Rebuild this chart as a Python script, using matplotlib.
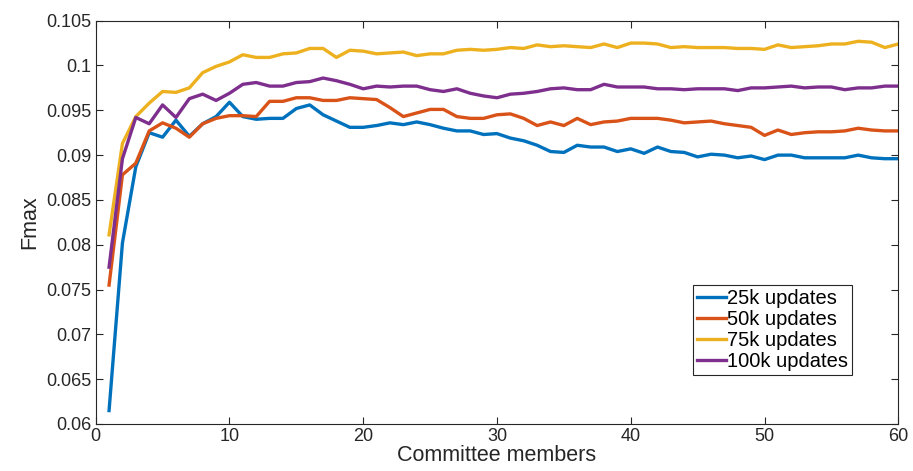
"""
Fmax vs committee size for different numbers of updates
"""

# Imports
import matplotlib
matplotlib.use('Agg')
import matplotlib.pyplot as plt
import numpy

plt.rcParams['font.family'] = ['Liberation Sans', 'DejaVu Sans']

# Data
members = numpy.arange(1, 61)

fmax_25k = [0.0615, 0.0802, 0.0887, 0.0925, 0.0920, 0.0939, 0.0921, 0.0935, 0.0943, 0.0959,
            0.0943, 0.0940, 0.0941, 0.0941, 0.0952, 0.0956, 0.0945, 0.0938, 0.0931, 0.0931,
            0.0933, 0.0936, 0.0934, 0.0937, 0.0934, 0.0930, 0.0927, 0.0927, 0.0923, 0.0924,
            0.0919, 0.0916, 0.0911, 0.0904, 0.0903, 0.0911, 0.0909, 0.0909, 0.0904, 0.0907,
            0.0902, 0.0909, 0.0904, 0.0903, 0.0898, 0.0901, 0.0900, 0.0897, 0.0899, 0.0895,
            0.0900, 0.0900, 0.0897, 0.0897, 0.0897, 0.0897, 0.0900, 0.0897, 0.0896, 0.0896]

fmax_50k = [0.0755, 0.0878, 0.0891, 0.0927, 0.0936, 0.0930, 0.0920, 0.0935, 0.0941, 0.0944,
            0.0944, 0.0943, 0.0960, 0.0960, 0.0964, 0.0964, 0.0961, 0.0961, 0.0964, 0.0963,
            0.0962, 0.0953, 0.0943, 0.0947, 0.0951, 0.0951, 0.0943, 0.0941, 0.0941, 0.0945,
            0.0946, 0.0941, 0.0933, 0.0937, 0.0933, 0.0941, 0.0934, 0.0937, 0.0938, 0.0941,
            0.0941, 0.0941, 0.0939, 0.0936, 0.0937, 0.0938, 0.0935, 0.0933, 0.0931, 0.0922,
            0.0928, 0.0923, 0.0925, 0.0926, 0.0926, 0.0927, 0.0930, 0.0928, 0.0927, 0.0927]

fmax_75k = [0.0811, 0.0913, 0.0943, 0.0958, 0.0971, 0.0970, 0.0975, 0.0992, 0.0999, 0.1004,
            0.1012, 0.1009, 0.1009, 0.1013, 0.1014, 0.1019, 0.1019, 0.1009, 0.1017, 0.1016,
            0.1013, 0.1014, 0.1015, 0.1011, 0.1013, 0.1013, 0.1017, 0.1018, 0.1017, 0.1018,
            0.1020, 0.1019, 0.1023, 0.1021, 0.1022, 0.1021, 0.1020, 0.1024, 0.1020, 0.1025,
            0.1025, 0.1024, 0.1020, 0.1021, 0.1020, 0.1020, 0.1020, 0.1019, 0.1019, 0.1018,
            0.1023, 0.1020, 0.1021, 0.1022, 0.1024, 0.1024, 0.1027, 0.1026, 0.1020, 0.1024]

fmax_100k = [0.0775, 0.0896, 0.0942, 0.0935, 0.0956, 0.0942, 0.0963, 0.0968, 0.0961, 0.0969,
             0.0979, 0.0981, 0.0977, 0.0977, 0.0981, 0.0982, 0.0986, 0.0983, 0.0979, 0.0974,
             0.0977, 0.0976, 0.0977, 0.0977, 0.0973, 0.0971, 0.0974, 0.0969, 0.0966, 0.0964,
             0.0968, 0.0969, 0.0971, 0.0974, 0.0975, 0.0973, 0.0973, 0.0979, 0.0976, 0.0976,
             0.0976, 0.0974, 0.0974, 0.0973, 0.0974, 0.0974, 0.0974, 0.0972, 0.0975, 0.0975,
             0.0976, 0.0977, 0.0975, 0.0976, 0.0976, 0.0973, 0.0975, 0.0975, 0.0977, 0.0977]

labels = ['25k updates', '50k updates', '75k updates', '100k updates']
colors = ['#0072BD', '#D95319', '#EDB120', '#7E2F8E']

y_ticks = [0.06, 0.065, 0.07, 0.075, 0.08, 0.085, 0.09, 0.095, 0.1, 0.105]
y_tick_labels = ['0.06', '0.065', '0.07', '0.075', '0.08', '0.085', '0.09', '0.095', '0.1', '0.105']
x_ticks = [0, 10, 20, 30, 40, 50, 60]

# Plot
fig = plt.figure(figsize=(9.13, 4.71), dpi=100)
ax = fig.add_axes([0.1048, 0.0998, 0.8791, 0.8563])

for series, label, color in zip([fmax_25k, fmax_50k, fmax_75k, fmax_100k], labels, colors):
    ax.plot(members, series, color=color, linewidth=2.4, label=label)

ax.set_xlim(0, 60)
ax.set_ylim(0.06, 0.105)
ax.set_xticks(x_ticks)
ax.set_yticks(y_ticks)
ax.set_yticklabels(y_tick_labels)
ax.tick_params(direction='in', top=True, right=True, labelsize=13,
               length=5, width=0.8, colors='#262626', pad=3)
for spine in ax.spines.values():
    spine.set_color('#262626')
    spine.set_linewidth(0.8)

ax.set_xlabel('Committee members', fontsize=15.5, color='#262626', labelpad=0)
ax.set_ylabel('Fmax', fontsize=15.5, color='#262626', labelpad=4)

leg = ax.legend(loc='upper left', bbox_to_anchor=(0.744, 0.345), fontsize=14.5,
                handlelength=1.45, handletextpad=0.05, borderpad=0.2, labelspacing=0.1,
                borderaxespad=0, fancybox=False, framealpha=1)
leg.get_frame().set_edgecolor('#262626')
leg.get_frame().set_linewidth(0.8)

plt.savefig('out.png', dpi=100)
plt.close()
